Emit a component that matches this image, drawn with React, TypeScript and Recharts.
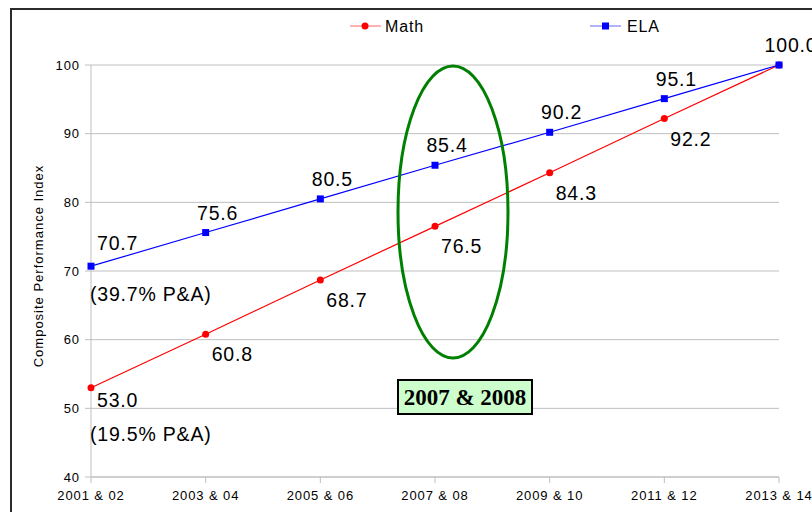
import React from 'react';
import { LineChart, Line, XAxis, YAxis, CartesianGrid, LabelList } from 'recharts';

const categories = ['2001 & 02', '2003 & 04', '2005 & 06', '2007 & 08', '2009 & 10', '2011 & 12', '2013 & 14'];
const mathValues = [53.0, 60.8, 68.7, 76.5, 84.3, 92.2, 100.0];
const elaValues = [70.7, 75.6, 80.5, 85.4, 90.2, 95.1, 100.0];
const yTicks = [40, 50, 60, 70, 80, 90, 100];
const mathNote = '(19.5% P&A)';
const elaNote = '(39.7% P&A)';
const highlightText = '2007 & 2008';
const yLabel = 'Composite Performance Index';

const data = categories.map((c, i) => ({ cat: c, math: mathValues[i], ela: elaValues[i] }));

const FONT = 'Arial, "Liberation Sans", sans-serif';
const GRID = '#bfbfbf';
const labelStyle = { fontFamily: FONT, fontSize: 19.5, letterSpacing: 0.8, fill: '#000' };

const SquareDot = (props: any) => {
  const { cx, cy } = props;
  if (cx == null || cy == null) return null;
  return <rect x={cx - 3.5} y={cy - 3.5} width={7} height={7} fill="#0000ff" />;
};

const CircleDot = (props: any) => {
  const { cx, cy } = props;
  if (cx == null || cy == null) return null;
  return <circle cx={cx} cy={cy} r={3.5} fill="#ff0000" />;
};

const fmt = (v: number) => v.toFixed(1);

const MathLabel = (props: any) => {
  const { x, y, value, index } = props;
  if (index === mathValues.length - 1) return null;
  if (index === 0) {
    return (
      <g>
        <text x={x + 6} y={y + 19} style={labelStyle}>{fmt(value)}</text>
        <text x={x - 1} y={y + 53} style={labelStyle}>{mathNote}</text>
      </g>
    );
  }
  return <text x={x + 6} y={y + 27} style={labelStyle}>{fmt(value)}</text>;
};

const ElaLabel = (props: any) => {
  const { x, y, value, index } = props;
  if (index === 0) {
    return (
      <g>
        <text x={x + 6} y={y - 16} style={labelStyle}>{fmt(value)}</text>
        <text x={x - 1} y={y + 35} style={labelStyle}>{elaNote}</text>
      </g>
    );
  }
  return <text x={x + 12} y={y - 13} textAnchor="middle" style={labelStyle}>{fmt(value)}</text>;
};

const YLabel = (props: any) => {
  const vb = props.viewBox || {};
  const cx = 38;
  const cy = (vb.y ?? 65) + (vb.height ?? 412) / 2 - 5;
  return (
    <text x={cx} y={cy} transform={`rotate(-90 ${cx} ${cy})`} textAnchor="middle" dominantBaseline="central"
      style={{ fontFamily: FONT, fontSize: 13, letterSpacing: 1, fill: '#000' }}>
      {yLabel}
    </text>
  );
};

export default function App() {
  return (
    <div style={{ position: 'absolute', left: 0, top: 0, width: 812, height: 512, background: '#fff', overflow: 'hidden' }}>
      <LineChart width={812} height={512} data={data} margin={{ top: 65, right: 33, left: 0, bottom: 0 }}>
        <CartesianGrid vertical={false} stroke={GRID} />
        <XAxis dataKey="cat" height={35} interval={0} stroke={GRID} tickSize={6} tickMargin={8}
          tick={{ fill: '#000', fontSize: 13, fontFamily: FONT, letterSpacing: 0.9 }} />
        <YAxis width={91} domain={[40, 100]} ticks={yTicks} interval={0} stroke={GRID} tickSize={6} tickMargin={5}
          tick={{ fill: '#000', fontSize: 13, fontFamily: FONT, letterSpacing: 0.9 }}
          label={<YLabel />} />
        <Line dataKey="math" stroke="#ff0000" strokeWidth={1.2} dot={<CircleDot />} activeDot={false} isAnimationActive={false}>
          <LabelList dataKey="math" content={<MathLabel />} />
        </Line>
        <Line dataKey="ela" stroke="#0000ff" strokeWidth={1.2} dot={<SquareDot />} activeDot={false} isAnimationActive={false}>
          <LabelList dataKey="ela" content={<ElaLabel />} />
        </Line>
      </LineChart>
      <svg width={812} height={512} style={{ position: 'absolute', left: 0, top: 0, pointerEvents: 'none' }}>
        <rect x={11} y={9} width={900} height={600} fill="none" stroke="#2b2b2b" strokeWidth={2} />
        <g>
          <line x1={350} y1={26} x2={381} y2={26} stroke="#ff0000" strokeWidth={1} opacity={0.6} />
          <circle cx={365} cy={26} r={3.5} fill="#ff0000" />
          <text x={385} y={32} style={{ fontFamily: FONT, fontSize: 16, letterSpacing: 0.9, fill: '#000' }}>Math</text>
          <line x1={590} y1={26} x2={621} y2={26} stroke="#0000ff" strokeWidth={1} opacity={0.6} />
          <rect x={602} y={22.5} width={7} height={7} fill="#0000ff" />
          <text x={627} y={32} style={{ fontFamily: FONT, fontSize: 16, letterSpacing: 0.9, fill: '#000' }}>ELA</text>
        </g>
        <ellipse cx={453} cy={212} rx={55} ry={146} fill="none" stroke="#008000" strokeWidth={3} />
        <rect x={398} y={380} width={134} height={34} fill="#ccffcc" stroke="#000" strokeWidth={2} />
        <text x={465} y={405} textAnchor="middle"
          style={{ fontFamily: '"Times New Roman", "Liberation Serif", serif', fontWeight: 'bold', fontSize: 23, fill: '#000' }}>
          {highlightText}
        </text>
      </svg>
    </div>
  );
}
